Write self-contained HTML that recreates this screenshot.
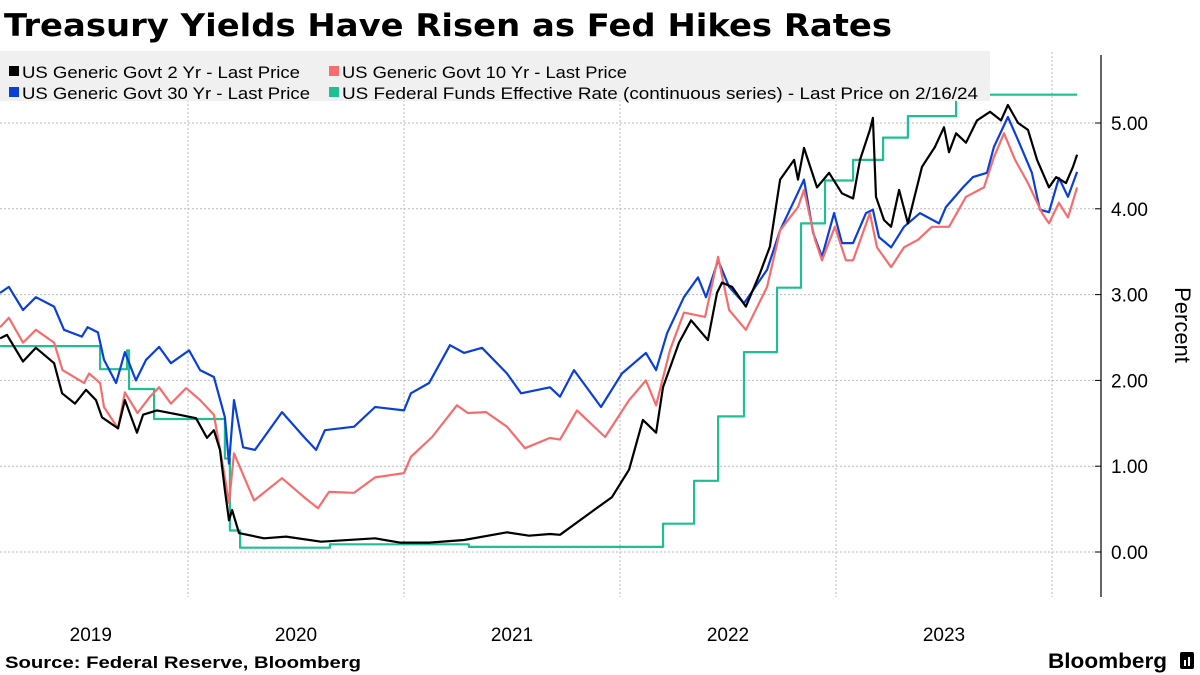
<!DOCTYPE html>
<html><head><meta charset="utf-8"><style>
body{margin:0;width:1200px;height:675px;background:#fff;overflow:hidden;font-family:"Liberation Sans",sans-serif}
svg{position:absolute;left:0;top:0}
</style></head><body>
<svg id="chart" width="1200" height="675" xmlns="http://www.w3.org/2000/svg">
<text x="4" y="36" font-family="DejaVu Sans" font-weight="bold" font-size="31" fill="#000" textLength="888" lengthAdjust="spacingAndGlyphs">Treasury Yields Have Risen as Fed Hikes Rates</text>
<g id="grid"></g>
<g id="series"></g>
<g>
<rect x="0" y="51" width="990" height="50" fill="#f0f0f0"/>
<g><rect x="9" y="66" width="10" height="10" fill="#000"/><text x="22" y="78" font-size="17" fill="#000" textLength="278" lengthAdjust="spacingAndGlyphs">US Generic Govt 2 Yr - Last Price</text></g>
<g><rect x="329" y="66" width="10" height="10" fill="#f76c6c"/><text x="342" y="78" font-size="17" fill="#000" textLength="285" lengthAdjust="spacingAndGlyphs">US Generic Govt 10 Yr - Last Price</text></g>
<g><rect x="9" y="87" width="10" height="10" fill="#0a3fd8"/><text x="22" y="99" font-size="17" fill="#000" textLength="288" lengthAdjust="spacingAndGlyphs">US Generic Govt 30 Yr - Last Price</text></g>
<g><rect x="329" y="87" width="10" height="10" fill="#1dbf93"/><text x="342" y="99" font-size="17" fill="#000" textLength="636" lengthAdjust="spacingAndGlyphs">US Federal Funds Effective Rate (continuous series) - Last Price on 2/16/24</text></g>
</g>
<g id="axes"></g>
<text transform="translate(1175,325) rotate(90)" text-anchor="middle" font-size="22" fill="#000">Percent</text>
<text x="5" y="668" font-weight="bold" font-size="16.5" fill="#000" textLength="356" lengthAdjust="spacingAndGlyphs">Source: Federal Reserve, Bloomberg</text>
<g><text x="1048" y="668" font-weight="bold" font-size="21" fill="#000" textLength="119" lengthAdjust="spacingAndGlyphs">Bloomberg</text><rect x="1180" y="652" width="14" height="17" rx="2" fill="#000"/><rect x="1184" y="660" width="2" height="6" fill="#fff"/><rect x="1188" y="657" width="2" height="9" fill="#fff"/></g>
</svg>
<script>
const yTicks=[0,1,2,3,4,5];
const yTickLabels=["0.00","1.00","2.00","3.00","4.00","5.00"];
const yearTicks=[2020,2021,2022,2023,2024];
const yearLabels=["2019","2020","2021","2022","2023"];
const yearLabelPos=[2019.55,2020.5,2021.5,2022.5,2023.5];

const t2=[2019.130,2019.162,2019.236,2019.296,2019.380,2019.417,2019.477,2019.528,2019.574,2019.602,2019.676,2019.708,2019.764,2019.792,2019.856,2019.958,2020.037,2020.088,2020.120,2020.148,2020.171,2020.190,2020.204,2020.236,2020.352,2020.454,2020.616,2020.866,2020.981,2021.116,2021.278,2021.477,2021.579,2021.676,2021.722,2021.880,2021.963,2022.042,2022.106,2022.167,2022.199,2022.273,2022.329,2022.407,2022.449,2022.472,2022.519,2022.583,2022.648,2022.694,2022.741,2022.806,2022.824,2022.852,2022.912,2022.968,2023.028,2023.079,2023.111,2023.157,2023.171,2023.185,2023.222,2023.255,2023.292,2023.333,2023.398,2023.458,2023.500,2023.523,2023.556,2023.602,2023.653,2023.713,2023.764,2023.796,2023.843,2023.889,2023.931,2023.986,2024.019,2024.065,2024.097,2024.116];
const v2=[2.49,2.53,2.22,2.38,2.20,1.85,1.73,1.89,1.77,1.57,1.44,1.77,1.39,1.60,1.65,1.60,1.56,1.33,1.42,1.19,0.72,0.37,0.49,0.22,0.16,0.18,0.12,0.16,0.11,0.11,0.14,0.23,0.19,0.21,0.20,0.49,0.64,0.96,1.54,1.39,1.92,2.44,2.70,2.47,3.02,3.14,3.09,2.86,3.25,3.56,4.34,4.57,4.34,4.71,4.25,4.42,4.18,4.12,4.57,4.92,5.06,4.14,3.87,3.79,4.22,3.83,4.49,4.72,4.95,4.66,4.88,4.77,5.03,5.13,5.03,5.21,5.00,4.92,4.57,4.25,4.37,4.30,4.49,4.63];

const t10=[2019.130,2019.171,2019.236,2019.296,2019.380,2019.419,2019.519,2019.542,2019.593,2019.611,2019.676,2019.708,2019.766,2019.824,2019.866,2019.921,2019.991,2020.056,2020.120,2020.171,2020.190,2020.213,2020.306,2020.435,2020.537,2020.602,2020.653,2020.769,2020.866,2021.000,2021.032,2021.130,2021.245,2021.296,2021.380,2021.477,2021.560,2021.676,2021.722,2021.801,2021.931,2022.042,2022.120,2022.167,2022.231,2022.296,2022.394,2022.454,2022.505,2022.583,2022.681,2022.741,2022.824,2022.852,2022.903,2022.935,2022.995,2023.046,2023.079,2023.157,2023.190,2023.255,2023.315,2023.380,2023.444,2023.523,2023.602,2023.685,2023.731,2023.778,2023.829,2023.889,2023.954,2023.986,2024.032,2024.074,2024.116];
const v10=[2.62,2.73,2.44,2.59,2.44,2.12,1.97,2.08,1.97,1.69,1.44,1.86,1.62,1.81,1.92,1.73,1.91,1.77,1.60,0.87,0.57,1.15,0.60,0.86,0.64,0.51,0.70,0.69,0.87,0.92,1.11,1.34,1.71,1.62,1.63,1.46,1.21,1.33,1.31,1.65,1.34,1.77,2.00,1.71,2.35,2.79,2.74,3.44,2.82,2.59,3.09,3.75,4.02,4.22,3.64,3.40,3.79,3.40,3.40,3.95,3.55,3.32,3.55,3.64,3.79,3.79,4.14,4.25,4.60,4.88,4.57,4.30,3.95,3.83,4.07,3.90,4.25];

const t30=[2019.130,2019.171,2019.236,2019.296,2019.380,2019.426,2019.509,2019.535,2019.583,2019.611,2019.667,2019.708,2019.759,2019.806,2019.866,2019.921,2020.005,2020.056,2020.120,2020.171,2020.190,2020.213,2020.255,2020.310,2020.435,2020.537,2020.593,2020.634,2020.769,2020.866,2021.000,2021.032,2021.116,2021.213,2021.278,2021.361,2021.477,2021.542,2021.676,2021.722,2021.787,2021.912,2022.009,2022.120,2022.167,2022.218,2022.296,2022.361,2022.398,2022.454,2022.505,2022.574,2022.681,2022.741,2022.815,2022.852,2022.894,2022.935,2022.991,2023.028,2023.079,2023.139,2023.171,2023.199,2023.255,2023.315,2023.389,2023.477,2023.509,2023.588,2023.634,2023.699,2023.731,2023.796,2023.843,2023.907,2023.944,2023.986,2024.032,2024.074,2024.116];
const v30=[3.02,3.09,2.82,2.97,2.86,2.59,2.51,2.62,2.56,2.24,1.97,2.33,2.00,2.24,2.39,2.20,2.35,2.12,2.04,1.57,1.03,1.77,1.22,1.19,1.63,1.34,1.19,1.42,1.46,1.69,1.65,1.85,1.97,2.41,2.32,2.38,2.08,1.85,1.92,1.81,2.12,1.69,2.08,2.32,2.12,2.55,2.97,3.20,2.97,3.40,3.09,2.90,3.29,3.75,4.14,4.34,3.72,3.44,3.95,3.60,3.60,3.95,3.99,3.67,3.55,3.79,3.95,3.83,4.02,4.25,4.37,4.42,4.72,5.07,4.80,4.42,3.99,3.96,4.36,4.14,4.43];

const tFed=[2019.130,2019.593,2019.718,2019.727,2019.843,2020.171,2020.194,2020.241,2020.657,2021.300,2022.199,2022.343,2022.454,2022.574,2022.727,2022.838,2022.949,2023.079,2023.218,2023.333,2023.556,2024.116];
const vFed=[2.40,2.13,2.35,1.90,1.55,1.09,0.25,0.05,0.09,0.06,0.33,0.83,1.58,2.33,3.08,3.83,4.33,4.57,4.83,5.08,5.33,5.33];

const NS="http://www.w3.org/2000/svg";
function xS(t){return 188+(t-2020)*216;}
function yS(v){return 552-v*85.8;}
const grid=document.getElementById('grid'),axes=document.getElementById('axes'),ser=document.getElementById('series');
function mk(tag,attrs,parent){const e=document.createElementNS(NS,tag);for(const k in attrs)e.setAttribute(k,attrs[k]);parent.appendChild(e);return e;}
yTicks.forEach((v,i)=>{
  const g=mk('line',{x1:0,x2:1100,y1:yS(v),y2:yS(v),stroke:'#bbb','stroke-width':1,'stroke-dasharray':'2,2'},grid);
  
  
  const tk=mk('line',{x1:1095,x2:1101,y1:yS(v),y2:yS(v),stroke:'#000','stroke-width':1},axes);
  
  
  const tx=mk('text',{x:1111,y:yS(v)+7,'font-size':19,fill:'#000'},axes);
  tx.textContent=yTickLabels[i];
  
  
});
yearTicks.forEach(t=>{
  const g=mk('line',{x1:xS(t),x2:xS(t),y1:52,y2:597,stroke:'#bbb','stroke-width':1,'stroke-dasharray':'2,2'},grid);
  
  
});
yearLabels.forEach((l,i)=>{
  const tx=mk('text',{x:xS(yearLabelPos[i]),y:641,'font-size':19,'text-anchor':'middle',fill:'#000'},axes);
  tx.textContent=l;
  
  
});
const ax=mk('line',{x1:1101,x2:1101,y1:55,y2:597,stroke:'#000','stroke-width':1.2},axes);


function line(ts,vs,col,name,step){
  let d='';
  ts.forEach((t,i)=>{
    const x=xS(t).toFixed(1),y=yS(vs[i]).toFixed(1);
    if(i===0)d+='M'+x+','+y;
    else if(step)d+='H'+x+'V'+y;
    else d+='L'+x+','+y;
  });
  const p=mk('path',{d:d,fill:'none',stroke:col,'stroke-width':2.2,'stroke-linejoin':'round'},ser);
  
  
}
line(tFed,vFed,'#1dbf93','fed-funds-line',true);
line(t30,v30,'#0a3fd8','yield-30yr-line',false);
line(t10,v10,'#f76c6c','yield-10yr-line',false);
line(t2,v2,'#000','yield-2yr-line',false);
</script>
</body></html>
